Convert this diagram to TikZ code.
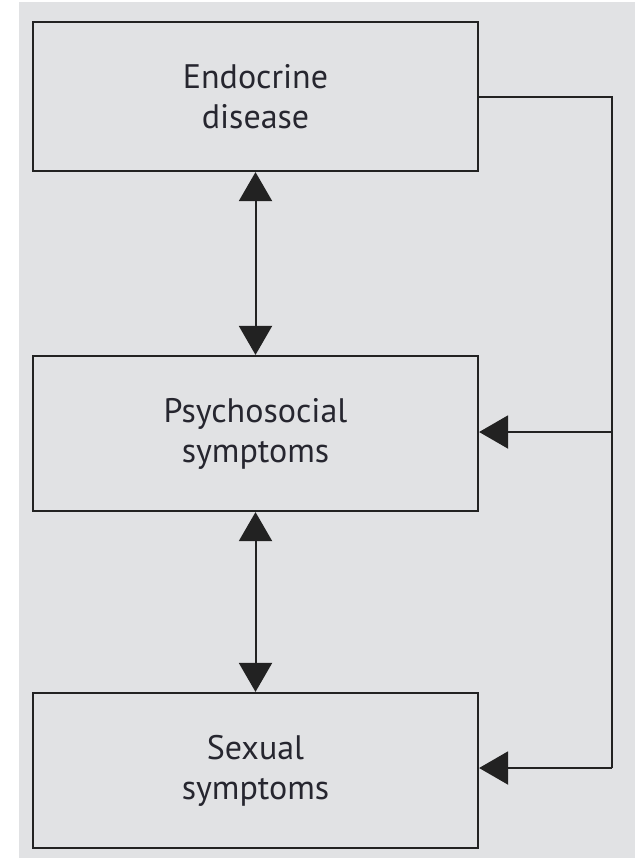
\documentclass[tikz,border=0pt]{standalone}
\usepackage{fontspec}
\setmainfont{PT Sans}
\usetikzlibrary{arrows.meta}
\definecolor{bgc}{HTML}{E1E2E4}
\definecolor{txt}{HTML}{26262F}
\definecolor{ln}{HTML}{222222}
\begin{document}
\begin{tikzpicture}[x=1pt,y=-1pt,
  box/.style={draw=ln, line width=2.2pt, minimum width=445pt, inner sep=0pt, text=txt, align=center, font=\fontsize{34}{40}\selectfont},
  conn/.style={draw=ln, line width=2pt},
  tip/.style={-{Triangle[width=33pt,length=29pt]}},
  tips/.style={{Triangle[width=33pt,length=29pt]}-{Triangle[width=33pt,length=29pt]}}]
\useasboundingbox (0,0) rectangle (635,859);
\fill[white] (0,0) rectangle (635,859);
\fill[bgc] (19,2) rectangle (635,858);
\node[box, minimum height=149pt] (endo) at (255.5,96.5) {Endocrine\\disease};
\node[box, minimum height=155pt] (psy) at (255.5,433.5) {Psychosocial\\symptoms};
\node[box, minimum height=155pt] (sex) at (255.5,770.5) {Sexual\\symptoms};
\coordinate (c1) at (612,96.5);
\coordinate (c2) at (612,432);
\coordinate (c3) at (612,768);
\draw[conn, tips] (endo.south) -- (psy.north);
\draw[conn, tips] (psy.south) -- (sex.north);
\draw[conn] (endo.east |- c1) -- (c1) -- (c3);
\draw[conn, tip] (c2) -- (psy.east |- c2);
\draw[conn, tip] (c3) -- (sex.east |- c3);
\end{tikzpicture}
\end{document}
